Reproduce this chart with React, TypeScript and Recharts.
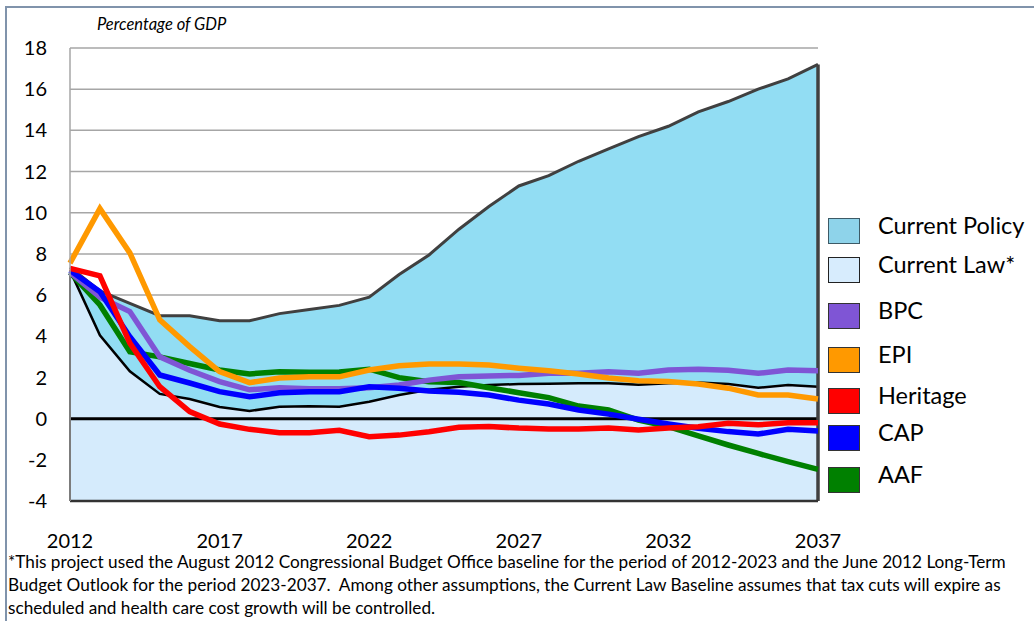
import { ComposedChart, Area, Line, XAxis, YAxis, CartesianGrid, ReferenceLine } from 'recharts';

const years = [2012, 2013, 2014, 2015, 2016, 2017, 2018, 2019, 2020, 2021, 2022, 2023, 2024, 2025, 2026, 2027, 2028, 2029, 2030, 2031, 2032, 2033, 2034, 2035, 2036, 2037];
const currentPolicy = [7.35, 6.2, 5.6, 5.0, 5.0, 4.75, 4.75, 5.1, 5.3, 5.5, 5.9, 7.0, 7.95, 9.2, 10.3, 11.3, 11.8, 12.5, 13.1, 13.7, 14.2, 14.9, 15.4, 16.0, 16.5, 17.2];
const currentLaw = [7.2, 4.05, 2.3, 1.2, 0.95, 0.57, 0.37, 0.58, 0.6, 0.58, 0.82, 1.15, 1.4, 1.55, 1.63, 1.68, 1.7, 1.72, 1.72, 1.65, 1.72, 1.75, 1.68, 1.5, 1.63, 1.55];
const bpc = [7.1, 5.9, 5.2, 3.0, 2.35, 1.8, 1.4, 1.5, 1.45, 1.45, 1.5, 1.63, 1.87, 2.03, 2.07, 2.1, 2.2, 2.2, 2.28, 2.2, 2.36, 2.4, 2.35, 2.2, 2.36, 2.33];
const epi = [7.55, 10.2, 8.05, 4.8, 3.5, 2.28, 1.75, 1.97, 2.03, 2.03, 2.36, 2.57, 2.65, 2.65, 2.6, 2.45, 2.33, 2.17, 1.97, 1.84, 1.8, 1.68, 1.48, 1.15, 1.15, 0.95];
const heritage = [7.3, 6.93, 3.67, 1.55, 0.34, -0.26, -0.52, -0.68, -0.68, -0.57, -0.88, -0.8, -0.64, -0.42, -0.38, -0.46, -0.5, -0.5, -0.46, -0.55, -0.46, -0.39, -0.22, -0.3, -0.2, -0.2];
const cap = [7.2, 6.16, 3.98, 2.12, 1.73, 1.31, 1.06, 1.26, 1.31, 1.31, 1.55, 1.47, 1.34, 1.28, 1.15, 0.9, 0.71, 0.42, 0.22, -0.03, -0.26, -0.47, -0.63, -0.75, -0.52, -0.6];
const aaf = [7.1, 5.52, 3.25, 3.0, 2.68, 2.36, 2.17, 2.28, 2.25, 2.27, 2.4, 1.99, 1.79, 1.75, 1.5, 1.26, 1.02, 0.61, 0.42, -0.07, -0.39, -0.84, -1.28, -1.69, -2.09, -2.46];

const xTicks = [2012, 2017, 2022, 2027, 2032, 2037];
const yTicks = [-4, -2, 0, 2, 4, 6, 8, 10, 12, 14, 16, 18];

const legendItems = [
  { name: 'Current Policy', color: '#8ED3EA', border: '#3d5a66' },
  { name: 'Current Law*', color: '#D7ECFD', border: '#222' },
  { name: 'BPC', color: '#7F55D5', border: '#333' },
  { name: 'EPI', color: '#FF9900', border: '#333' },
  { name: 'Heritage', color: '#FF0000', border: '#333' },
  { name: 'CAP', color: '#0000FF', border: '#333' },
  { name: 'AAF', color: '#008000', border: '#333' },
];
const legendTops = [218, 257, 303, 347, 388, 425, 467];

const footnote = [
  '*This project used the August 2012 Congressional Budget Office baseline for the period of 2012-2023 and the June 2012 Long-Term',
  'Budget Outlook for the period 2023-2037.  Among other assumptions, the Current Law Baseline assumes that tax cuts will expire as',
  'scheduled and health care cost growth will be controlled.',
];

const data = years.map((year, i) => ({
  year,
  policy: currentPolicy[i],
  law: currentLaw[i],
  bpc: bpc[i],
  epi: epi[i],
  heritage: heritage[i],
  cap: cap[i],
  aaf: aaf[i],
}));

const font = 'Lato, "Open Sans", sans-serif';

export default function App() {
  const last = years.length - 1;
  return (
    <div style={{ position: 'absolute', left: 0, top: 0, width: 1034, height: 621, background: '#fff', fontFamily: font, overflow: 'hidden' }}>
      <div style={{ position: 'absolute', left: 0, top: 0 }}>
        <ComposedChart width={1034} height={621} data={data} margin={{ top: 48, right: 216, bottom: 80, left: 10 }}>
          <CartesianGrid vertical={false} stroke="#A6A6A6" strokeWidth={1.5} />
          <XAxis
            dataKey="year"
            type="number"
            domain={[2012, 2037]}
            ticks={xTicks}
            height={40}
            tickLine={false}
            axisLine={{ stroke: '#333', strokeWidth: 2.5 }}
            tickMargin={27}
            tick={{ fill: '#000', fontSize: 20, fontFamily: font }}
          />
          <YAxis
            type="number"
            domain={[-4, 18]}
            ticks={yTicks}
            width={60}
            tickLine={false}
            axisLine={{ stroke: '#A6A6A6', strokeWidth: 1.5 }}
            tickMargin={17}
            tick={{ fill: '#000', fontSize: 20, fontFamily: font }}
            interval={0}
          />
          <Area type="linear" dataKey="policy" baseValue={-4} fill="#92DDF3" fillOpacity={1} stroke="#404040" strokeWidth={3} isAnimationActive={false} />
          <Area type="linear" dataKey="law" baseValue={-4} fill="#D5EBFC" fillOpacity={1} stroke="#000" strokeWidth={2.5} isAnimationActive={false} />
          <ReferenceLine y={0} stroke="#000" strokeWidth={3} />
          <ReferenceLine segment={[{ x: years[last], y: -4 }, { x: years[last], y: currentPolicy[last] }]} stroke="#404040" strokeWidth={3.5} />
          <ReferenceLine segment={[{ x: years[0], y: -4 }, { x: years[0], y: currentLaw[0] }]} stroke="#000" strokeWidth={2} />
          <Line type="linear" dataKey="aaf" stroke="#008000" strokeWidth={5.5} dot={false} isAnimationActive={false} />
          <Line type="linear" dataKey="bpc" stroke="#7F55D5" strokeWidth={5.5} dot={false} isAnimationActive={false} />
          <Line type="linear" dataKey="epi" stroke="#FF9900" strokeWidth={5.5} dot={false} isAnimationActive={false} />
          <Line type="linear" dataKey="cap" stroke="#0000FF" strokeWidth={5.5} dot={false} isAnimationActive={false} />
          <Line type="linear" dataKey="heritage" stroke="#FF0000" strokeWidth={5.5} dot={false} isAnimationActive={false} />
        </ComposedChart>
      </div>

      <div style={{ position: 'absolute', left: 5, top: 6, right: 0, bottom: 0, borderLeft: '2px solid #8093AB', borderTop: '2px solid #8093AB', pointerEvents: 'none' }} />
      <div style={{ position: 'absolute', left: 97, top: 14, fontSize: 16.5, fontStyle: 'italic', color: '#000' }}>Percentage of GDP</div>

      {legendItems.map((item, i) => (
        <div key={item.name} style={{ position: 'absolute', left: 828, top: legendTops[i], display: 'flex', alignItems: 'center' }}>
          <div style={{ width: 32, height: 26, background: item.color, border: `1.5px solid ${item.border}`, boxSizing: 'border-box' }} />
          <span style={{ marginLeft: 18, fontSize: 23.5, color: '#000', lineHeight: '26px', position: 'relative', top: -6, whiteSpace: 'nowrap' }}>{item.name}</span>
        </div>
      ))}

      <div style={{ position: 'absolute', left: 8, top: 550, fontSize: 17.2, lineHeight: '23px', color: '#000', whiteSpace: 'pre' }}>
        {footnote.map((line) => (
          <div key={line}>{line}</div>
        ))}
      </div>
    </div>
  );
}
